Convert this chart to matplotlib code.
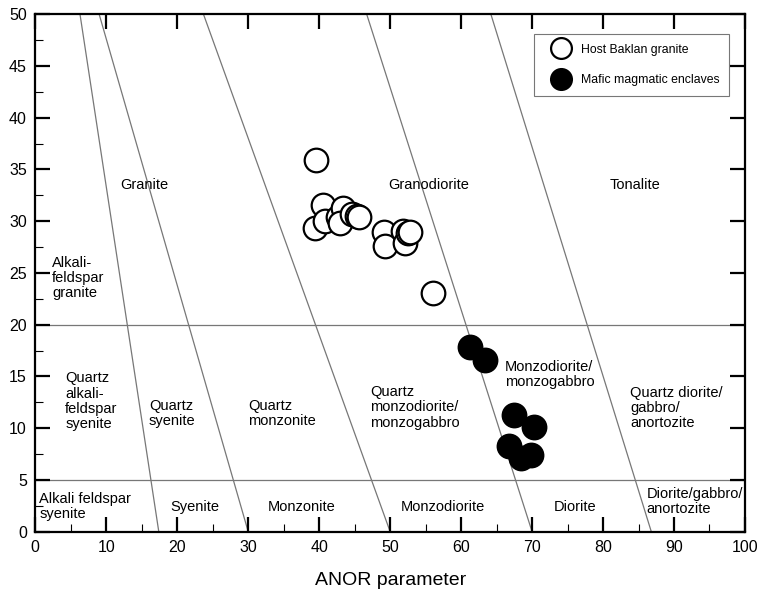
import matplotlib
matplotlib.use("Agg")
import matplotlib.pyplot as plt
from matplotlib.ticker import MultipleLocator
from matplotlib.lines import Line2D

plt.rcParams['font.family'] = ['Liberation Sans', 'DejaVu Sans']

# Field boundaries: ANOR value at Q'=0 and at Q'=50
BOUND_BOTTOM = [17.4, 30.0, 50.0, 70.0, 86.8]
BOUND_TOP = [6.3, 9.0, 23.7, 46.7, 64.2]
HLINES = [5, 20]

# Host Baklan granite (open circles)
host_x = [39.5, 40.5, 39.4, 40.8, 42.6, 43.3, 43.0, 44.6, 45.3, 45.6,
          49.2, 49.3, 51.8, 52.1, 52.5, 52.8, 56.1]
host_y = [35.9, 31.6, 29.3, 30.0, 30.4, 31.3, 29.8, 30.7, 30.5, 30.4,
          29.0, 27.6, 29.1, 27.9, 28.9, 29.0, 23.1]

# Mafic magmatic enclaves (filled circles)
mme_x = [61.2, 63.3, 67.5, 70.3, 66.8, 68.4, 69.8]
mme_y = [17.8, 16.6, 11.3, 10.1, 8.3, 7.1, 7.4]

# Field names: (text, x, y, horizontal alignment)
FIELDS = [
    ("Granite", 15.4, 33.5, "center"),
    ("Granodiorite", 55.4, 33.5, "center"),
    ("Tonalite", 84.5, 33.5, "center"),
    ("Alkali-\nfeldspar\ngranite", 2.4, 24.5, "left"),
    ("Quartz\nalkali-\nfeldspar\nsyenite", 4.2, 12.6, "left"),
    ("Quartz\nsyenite", 16.0, 11.4, "left"),
    ("Quartz\nmonzonite", 30.0, 11.4, "left"),
    ("Quartz\nmonzodiorite/\nmonzogabbro", 47.2, 12.0, "left"),
    ("Monzodiorite/\nmonzogabbro", 66.2, 15.2, "left"),
    ("Quartz diorite/\ngabbro/\nanortozite", 83.8, 11.95, "left"),
    ("Alkali feldspar\nsyenite", 0.55, 2.4, "left"),
    ("Syenite", 22.5, 2.4, "center"),
    ("Monzonite", 37.5, 2.4, "center"),
    ("Monzodiorite", 57.5, 2.4, "center"),
    ("Diorite", 76.1, 2.4, "center"),
    ("Diorite/gabbro/\nanortozite", 86.1, 2.9, "left"),
]

fig = plt.figure(figsize=(7.59, 5.94), dpi=100)
ax = fig.add_axes([0.0465, 0.105, 0.935, 0.871])

# boundaries
for xb, xt in zip(BOUND_BOTTOM, BOUND_TOP):
    ax.plot([xb, xt], [0, 50], color="#777777", lw=0.9, zorder=1)
for h in HLINES:
    ax.axhline(h, color="#777777", lw=0.9, zorder=1)

ms = 17
ax.plot(host_x, host_y, "o", ms=ms, mfc="white", mec="black", mew=1.6, ls="none", zorder=3)
ax.plot(mme_x, mme_y, "o", ms=ms, mfc="black", mec="black", mew=1.6, ls="none", zorder=3)

for txt, x, y, ha in FIELDS:
    ax.text(x, y, txt, ha=ha, va="center", fontsize=10.5, linespacing=1.12, zorder=2)

ax.set_xlim(0, 100)
ax.set_ylim(0, 50)
ax.xaxis.set_major_locator(MultipleLocator(10))
ax.xaxis.set_minor_locator(MultipleLocator(5))
ax.yaxis.set_major_locator(MultipleLocator(5))
ax.yaxis.set_minor_locator(MultipleLocator(2.5))
ax.tick_params(which="major", direction="in", length=11, width=1.6, labelsize=11.5,
               top=True, right=True, pad=6)
ax.tick_params(which="minor", direction="in", length=5.5, width=0.8)
for s in ax.spines.values():
    s.set_linewidth(1.6)

ax.set_xlabel("ANOR parameter", fontsize=14, labelpad=12)

handles = [
    Line2D([], [], marker="o", ls="none", ms=15, mfc="white", mec="black", mew=1.6),
    Line2D([], [], marker="o", ls="none", ms=15, mfc="black", mec="black", mew=1.6),
]
leg = ax.legend(handles, ["Host Baklan granite", "Mafic magmatic enclaves"],
                loc="upper right", bbox_to_anchor=(0.978, 0.962), fontsize=8.8,
                frameon=True, fancybox=False, edgecolor="#555555",
                borderpad=0.8, labelspacing=1.5, handlelength=2.8,
                handletextpad=0.2, borderaxespad=0)
leg.get_frame().set_linewidth(0.8)

fig.savefig("out.png", dpi=100)
